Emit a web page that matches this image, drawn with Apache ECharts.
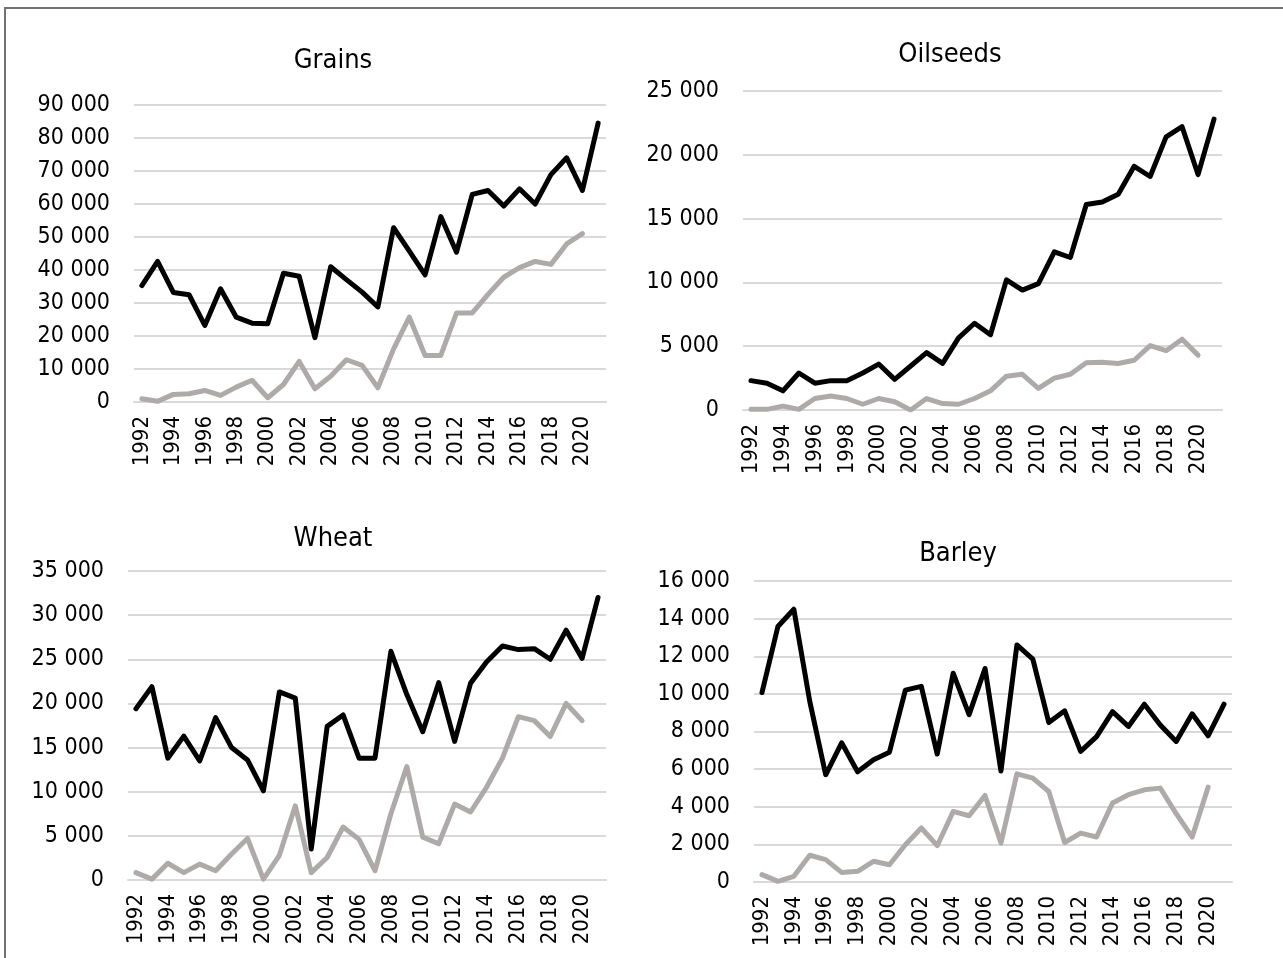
<!DOCTYPE html>
<html>
<head>
<meta charset="utf-8">
<title>Grains, Oilseeds, Wheat, Barley</title>
<script src="https://cdn.jsdelivr.net/npm/echarts@6/dist/echarts.min.js"></script>
<style>
  html, body { margin: 0; padding: 0; background: #fff; }
  #chart { width: 1283px; height: 958px; }
</style>
</head>
<body>
<div id="chart"></div>
<script>
const years = ["1992", "1993", "1994", "1995", "1996", "1997", "1998", "1999", "2000", "2001",
  "2002", "2003", "2004", "2005", "2006", "2007", "2008", "2009", "2010", "2011",
  "2012", "2013", "2014", "2015", "2016", "2017", "2018", "2019", "2020", "2021"];

// black line runs to 2021, grey line stops at 2020
const grainsDark = [35300, 42600, 33200, 32500, 23200, 34300, 25700, 23900, 23700, 39000,
  38100, 19500, 41000, 37100, 33300, 28800, 52800, 45700, 38500, 56200,
  45400, 62900, 64100, 59400, 64600, 60000, 68900, 74000, 64100, 84500];
const grainsLight = [1000, 200, 2300, 2500, 3500, 2000, 4500, 6600, 1300, 5300,
  12300, 4000, 7800, 12800, 11100, 4300, 16100, 25700, 14100, 14100,
  27000, 27000, 32600, 37800, 40700, 42600, 41700, 47900, 51000];

const oilseedsDark = [2300, 2100, 1500, 2900, 2100, 2300, 2300, 2900, 3600, 2400,
  3450, 4500, 3650, 5650, 6800, 5900, 10200, 9400, 9900, 12400,
  11950, 16100, 16300, 16900, 19100, 18300, 21400, 22200, 18450, 22800];
const oilseedsLight = [50, 50, 300, 50, 900, 1100, 900, 450, 900, 650,
  0, 900, 500, 450, 900, 1500, 2650, 2800, 1700, 2500,
  2800, 3700, 3750, 3650, 3900, 5050, 4650, 5550, 4300];

const wheatDark = [19400, 21900, 13800, 16300, 13500, 18400, 15000, 13600, 10100, 21300,
  20600, 3500, 17400, 18700, 13800, 13800, 25900, 21000, 16800, 22350,
  15700, 22300, 24700, 26500, 26100, 26200, 25000, 28300, 25100, 32000];
const wheatLight = [830, 100, 1900, 830, 1800, 1050, 2950, 4700, 100, 2800,
  8400, 830, 2550, 6000, 4600, 1050, 7500, 12850, 4850, 4100,
  8600, 7700, 10500, 13800, 18500, 18050, 16250, 20000, 18050];

const barleyDark = [10070, 13580, 14500, 9600, 5700, 7400, 5860, 6500, 6900, 10200,
  10400, 6800, 11100, 8900, 11350, 5900, 12600, 11850, 8480, 9100,
  6940, 7730, 9060, 8270, 9450, 8350, 7470, 8940, 7770, 9450];
const barleyLight = [390, 35, 300, 1420, 1190, 510, 570, 1100, 920, 1980,
  2870, 1930, 3750, 3520, 4600, 2070, 5750, 5520, 4810, 2100,
  2600, 2390, 4200, 4640, 4900, 4990, 3630, 2390, 5040];

const panels = [
  { title: "Grains", dark: grainsDark, light: grainsLight, max: 90000, step: 10000,
    grid: { left: 134, top: 105, width: 472, height: 297 }, titlePos: [328, 56] },
  { title: "Oilseeds", dark: oilseedsDark, light: oilseedsLight, max: 25000, step: 5000,
    grid: { left: 743, top: 91, width: 479, height: 319 }, titlePos: [945, 50] },
  { title: "Wheat", dark: wheatDark, light: wheatLight, max: 35000, step: 5000,
    grid: { left: 128, top: 571, width: 478, height: 309 }, titlePos: [328, 534] },
  { title: "Barley", dark: barleyDark, light: barleyLight, max: 16000, step: 2000,
    grid: { left: 754, top: 581, width: 478, height: 301 }, titlePos: [953, 549] }
];

const FONT = "'DejaVu Sans Condensed', 'DejaVu Sans', sans-serif";
const gridColor = "#d9d9d9";

function fmt(v) {
  return String(v).replace(/\B(?=(\d{3})+(?!\d))/g, " ");
}

const option = {
  animation: false,
  backgroundColor: "#fff",
  textStyle: { fontFamily: FONT },
  title: panels.map((p) => ({
    text: p.title,
    left: p.titlePos[0],
    top: p.titlePos[1],
    textAlign: "center",
    textVerticalAlign: "middle",
    textStyle: { fontFamily: FONT, fontSize: 27, fontWeight: "normal", color: "#000" }
  })),
  grid: panels.map((p) => Object.assign({ containLabel: false, outerBoundsMode: "none" }, p.grid)),
  xAxis: panels.map((p, i) => ({
    type: "category",
    gridIndex: i,
    data: years,
    boundaryGap: true,
    axisLine: { show: true, lineStyle: { color: gridColor, width: 2 } },
    axisTick: { show: false },
    axisLabel: {
      interval: 1,
      rotate: 90,
      margin: 14,
      fontFamily: FONT,
      fontSize: 22,
      color: "#000"
    },
    splitLine: { show: false }
  })),
  yAxis: panels.map((p, i) => ({
    type: "value",
    gridIndex: i,
    min: 0,
    max: p.max,
    interval: p.step,
    axisLine: { show: false },
    axisTick: { show: false },
    axisLabel: {
      margin: 24,
      fontFamily: FONT,
      fontSize: 23,
      color: "#000",
      formatter: fmt
    },
    splitLine: { show: true, lineStyle: { color: gridColor, width: 2 } }
  })),
  series: [],
  graphic: [
    {
      type: "rect",
      shape: { x: 5, y: 8, width: 1400, height: 1100 },
      style: { fill: "none", stroke: "#767171", lineWidth: 2 },
      silent: true,
      z: 100
    }
  ]
};

panels.forEach((p, i) => {
  option.series.push({
    name: p.title + " light",
    type: "line",
    xAxisIndex: i,
    yAxisIndex: i,
    data: p.light,
    symbol: "none",
    lineStyle: { color: "#aeaaaa", width: 5, join: "round", cap: "round" },
    z: 2
  });
  option.series.push({
    name: p.title + " dark",
    type: "line",
    xAxisIndex: i,
    yAxisIndex: i,
    data: p.dark,
    symbol: "none",
    lineStyle: { color: "#000", width: 5, join: "round", cap: "round" },
    z: 3
  });
});

const chart = echarts.init(document.getElementById("chart"), null, { renderer: "canvas" });
chart.setOption(option);
</script>
</body>
</html>
